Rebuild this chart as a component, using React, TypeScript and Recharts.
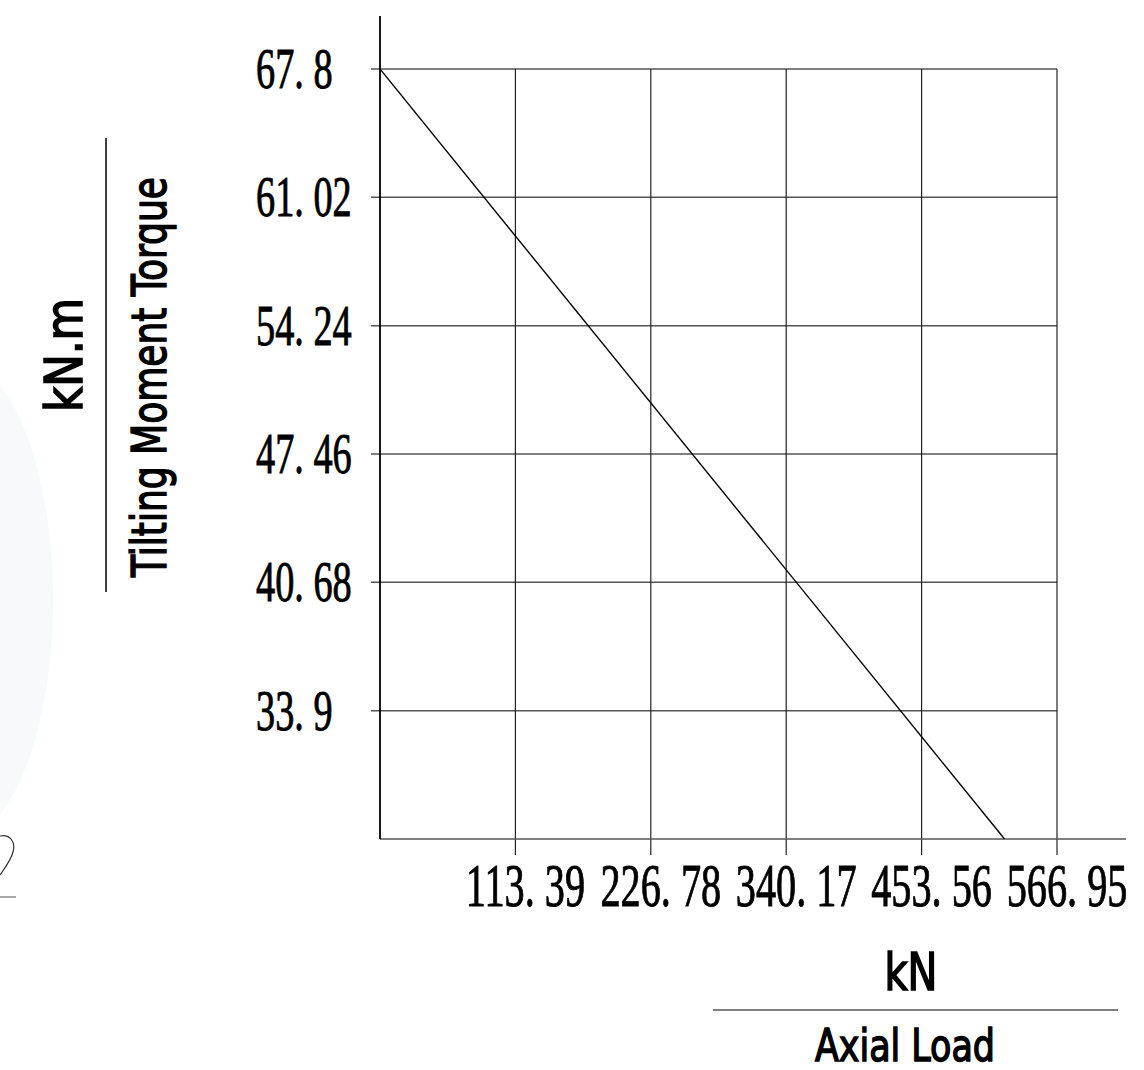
import React from 'react'
import { LineChart, Line, XAxis, YAxis, ReferenceLine } from 'recharts'

// axial load (kN) vs tilting moment (kN.m)
const xTicks = [113.39, 226.78, 340.17, 453.56, 566.95]
const yTicks = [33.9, 40.68, 47.46, 54.24, 61.02, 67.8]
const yMin = 27.12
const curve = [
  { load: 0, torque: 67.8 },
  { load: 523, torque: 27.12 },
]

const W = 1144
const H = 1070

const tickFont = '"Liberation Serif", "Times New Roman", serif'
const titleFont = '"DejaVu Sans Condensed", "DejaVu Sans", sans-serif'

const fmt = (v: number) => String(v).replace('.', '. ')

const XTick = (props: any) => {
  const { x, payload } = props
  return (
    <text
      transform={`translate(${x + 10},906) scale(0.66,1)`}
      textAnchor="middle"
      style={{ fontFamily: tickFont, fontSize: 61 }}
      fill="#000"
      stroke="#000"
      strokeWidth={0.9}
    >
      {fmt(payload.value)}
    </text>
  )
}

const YTick = (props: any) => {
  const { y, payload } = props
  return (
    <text
      transform={`translate(256,${y + 19}) scale(0.66,1)`}
      textAnchor="start"
      style={{ fontFamily: tickFont, fontSize: 58 }}
      fill="#000"
      stroke="#000"
      strokeWidth={0.9}
    >
      {fmt(payload.value)}
    </text>
  )
}

const titleStyle: React.CSSProperties = { fontFamily: titleFont }

export default function App() {
  return (
    <div style={{ position: 'relative', width: W, height: H, background: '#fff', overflow: 'hidden' }}>
      <style>{'body{margin:0}'}</style>

      {/* faint background watermark + titles */}
      <svg width={W} height={H} style={{ position: 'absolute', left: 0, top: 0 }}>
        <ellipse cx={-43} cy={600} rx={96} ry={240} fill="#f7f9fb" />
        <path d="M0,836 C10,834 16,842 13,852 C11,860 5,868 0,875" fill="none" stroke="#333" strokeWidth={1.2} />
        <line x1={0} y1={897} x2={16} y2={897} stroke="#888" strokeWidth={1.5} />

        <text
          transform="translate(82,355) rotate(-90)"
          textAnchor="middle"
          style={{ ...titleStyle, fontSize: 51 }}
          textLength={114}
          lengthAdjust="spacingAndGlyphs"
          fill="#000"
          stroke="#000"
          strokeWidth={1.6}
        >
          kN.m
        </text>
        <line x1={106} y1={138} x2={106} y2={592} stroke="#000" strokeWidth={1.5} />
        <text
          transform="translate(166,377) rotate(-90)"
          textAnchor="middle"
          style={{ ...titleStyle, fontSize: 48 }}
          textLength={400}
          lengthAdjust="spacingAndGlyphs"
          fill="#000"
          stroke="#000"
          strokeWidth={1.4}
        >
          Tilting Moment Torque
        </text>

        <text
          x={911}
          y={990}
          textAnchor="middle"
          style={{ ...titleStyle, fontSize: 52 }}
          textLength={53}
          lengthAdjust="spacingAndGlyphs"
          fill="#000"
          stroke="#000"
          strokeWidth={1.6}
        >
          kN
        </text>
        <line x1={713} y1={1010} x2={1118} y2={1010} stroke="#555" strokeWidth={1.5} />
        <text
          x={905}
          y={1061}
          textAnchor="middle"
          style={{ ...titleStyle, fontSize: 44 }}
          textLength={180}
          lengthAdjust="spacingAndGlyphs"
          fill="#000"
          stroke="#000"
          strokeWidth={1.4}
        >
          Axial Load
        </text>
      </svg>

      <div style={{ position: 'absolute', left: 0, top: 0 }}>
        <LineChart
          width={W}
          height={H}
          data={curve}
          margin={{ top: 69, right: 87, bottom: 171, left: 0 }}
        >
          <XAxis
            dataKey="load"
            type="number"
            domain={[0, 566.95]}
            ticks={xTicks}
            allowDataOverflow
            axisLine={false}
            tickLine={false}
            height={60}
            tick={<XTick />}
            interval={0}
          />
          <YAxis
            type="number"
            domain={[yMin, 67.8]}
            ticks={yTicks}
            allowDataOverflow
            axisLine={false}
            tickLine={false}
            width={380}
            tick={<YTick />}
            interval={0}
          />

          {/* horizontal grid, with short ticks left of the axis */}
          {yTicks.map((v) => (
            <ReferenceLine
              key={'h' + v}
              segment={[{ x: -7.54, y: v }, { x: 566.95, y: v }]}
              stroke="#555"
              strokeWidth={1.5}
              ifOverflow="visible"
            />
          ))}

          {/* vertical grid, running past the x axis as ticks */}
          {xTicks.map((v) => (
            <ReferenceLine
              key={'v' + v}
              segment={[{ x: v, y: 26.27 }, { x: v, y: 67.8 }]}
              stroke="#222"
              strokeWidth={1.2}
              ifOverflow="visible"
            />
          ))}

          {/* axes drawn longer than the grid */}
          <ReferenceLine
            segment={[{ x: 0, y: yMin }, { x: 624.7, y: yMin }]}
            stroke="#555"
            strokeWidth={1.6}
            ifOverflow="visible"
          />
          <ReferenceLine
            segment={[{ x: 0, y: yMin }, { x: 0, y: 70.6 }]}
            stroke="#000"
            strokeWidth={1.8}
            ifOverflow="visible"
          />

          <Line
            dataKey="torque"
            type="linear"
            stroke="#000"
            strokeWidth={1.4}
            dot={false}
            activeDot={false}
            isAnimationActive={false}
          />
        </LineChart>
      </div>
    </div>
  )
}
